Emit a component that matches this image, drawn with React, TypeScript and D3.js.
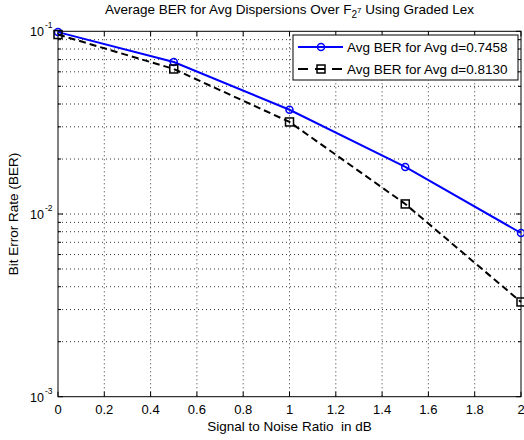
import React from "react";
import * as d3 from "d3";

const snr = [0, 0.5, 1, 1.5, 2];
const berBlue = [0.099, 0.0679, 0.0372, 0.0181, 0.00787];
const berBlack = [0.096, 0.0622, 0.0319, 0.01135, 0.0033];
const seriesNames = ["Avg BER for Avg d=0.7458", "Avg BER for Avg d=0.8130"];
const xTicks = [0, 0.2, 0.4, 0.6, 0.8, 1, 1.2, 1.4, 1.6, 1.8, 2];
const yMajor = [1e-3, 1e-2, 1e-1];
const yExps = ["-3", "-2", "-1"];

const W = 524, H = 440;
const L = 58, R = 521, T = 31.3, B = 396.7;
const FONT = "'Liberation Sans', Arial, sans-serif";

export default function App() {
  const x = d3.scaleLinear().domain([0, 2]).range([L, R]);
  const y = d3.scaleLog().domain([1e-3, 1e-1]).range([B, T]);
  const yMinor: number[] = [];
  for (const d of [1e-3, 1e-2]) for (let k = 2; k <= 9; k++) yMinor.push(d * k);
  const line = d3.line<number>().x((_, i) => x(snr[i])).y((v) => y(v));
  const dots = "1,3";
  return (
    <svg width={W} height={H} style={{ position: "absolute", left: 0, top: 0, background: "#fff" }}>
      <rect x={0} y={0} width={W} height={H} fill="#fff" />
      {xTicks.slice(1, -1).map((t) => (
        <line key={"gx" + t} x1={x(t)} x2={x(t)} y1={T} y2={B} stroke="#000" strokeWidth={0.8} strokeDasharray={dots} />
      ))}
      {[...yMinor, 1e-2].map((t) => (
        <line key={"gy" + t} x1={L} x2={R} y1={y(t)} y2={y(t)} stroke="#000" strokeWidth={0.8} strokeDasharray={dots} />
      ))}
      {xTicks.map((t) => (
        <g key={"tx" + t}>
          <line x1={x(t)} x2={x(t)} y1={B} y2={B - 5} stroke="#000" />
          <line x1={x(t)} x2={x(t)} y1={T} y2={T + 5} stroke="#000" />
          <text x={x(t)} y={414} textAnchor="middle" fontFamily={FONT} fontSize={13}>{String(t)}</text>
        </g>
      ))}
      {yMinor.map((t) => (
        <g key={"ty" + t}>
          <line x1={L} x2={L + 3} y1={y(t)} y2={y(t)} stroke="#000" />
          <line x1={R} x2={R - 3} y1={y(t)} y2={y(t)} stroke="#000" />
        </g>
      ))}
      {yMajor.map((t, i) => (
        <g key={"tY" + t}>
          <line x1={L} x2={L + 5} y1={y(t)} y2={y(t)} stroke="#000" />
          <line x1={R} x2={R - 5} y1={y(t)} y2={y(t)} stroke="#000" />
          <text x={44} y={y(t) + 5} textAnchor="end" fontFamily={FONT} fontSize={12.5}>10</text>
          <text x={45} y={y(t) - 3} textAnchor="start" fontFamily={FONT} fontSize={8.5}>{yExps[i]}</text>
        </g>
      ))}
      <rect x={L} y={T} width={R - L} height={B - T} fill="none" stroke="#000" strokeWidth={1} />
      <path d={line(berBlue) || ""} fill="none" stroke="#0000ff" strokeWidth={2} />
      {berBlue.map((v, i) => (
        <circle key={"cb" + i} cx={x(snr[i])} cy={y(v)} r={3.5} fill="none" stroke="#0000ff" strokeWidth={1.5} />
      ))}
      <path d={line(berBlack) || ""} fill="none" stroke="#000" strokeWidth={2} strokeDasharray="7,4" />
      {berBlack.map((v, i) => (
        <rect key={"sb" + i} x={x(snr[i]) - 4} y={y(v) - 4} width={8} height={8} fill="none" stroke="#000" strokeWidth={1.5} />
      ))}
      <rect x={293} y={35} width={225} height={45} fill="#fff" stroke="#000" strokeWidth={1} />
      <line x1={298} x2={343} y1={47} y2={47} stroke="#0000ff" strokeWidth={2} />
      <circle cx={321} cy={47} r={3.5} fill="none" stroke="#0000ff" strokeWidth={1.5} />
      <text x={347} y={51.5} fontFamily={FONT} fontSize={13.5}>{seriesNames[0]}</text>
      <line x1={298} x2={343} y1={69} y2={69} stroke="#000" strokeWidth={2} strokeDasharray="10,7" />
      <rect x={317} y={65} width={8} height={8} fill="none" stroke="#000" strokeWidth={1.5} />
      <text x={347} y={73.5} fontFamily={FONT} fontSize={13.5}>{seriesNames[1]}</text>
      <text x={(L + R) / 2} y={14} textAnchor="middle" fontFamily={FONT} fontSize={13.5}>
        Average BER for Avg Dispersions Over F
        <tspan fontSize={10} dy={4}>2</tspan>
        <tspan fontSize={8} dy={-5}>7</tspan>
        <tspan fontSize={13.5} dy={1}> Using Graded Lex</tspan>
      </text>
      <text x={(L + R) / 2} y={431} textAnchor="middle" fontFamily={FONT} fontSize={13.5} style={{ whiteSpace: "pre" }}>{"Signal to Noise Ratio  in dB"}</text>
      <text transform={`translate(18,${(T + B) / 2}) rotate(-90)`} textAnchor="middle" fontFamily={FONT} fontSize={13.5}>Bit Error Rate (BER)</text>
    </svg>
  );
}
